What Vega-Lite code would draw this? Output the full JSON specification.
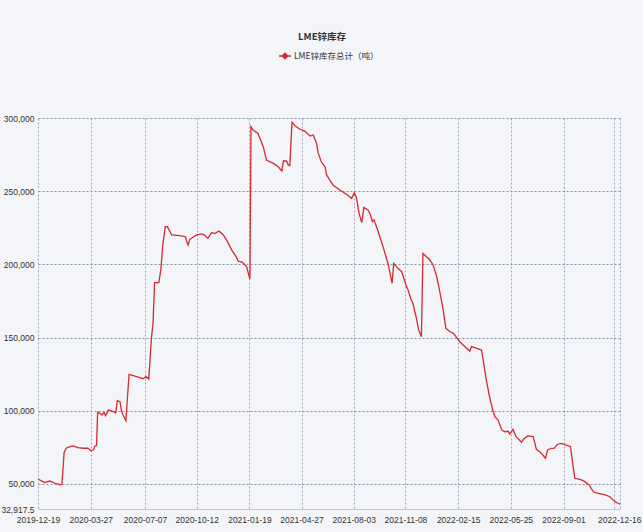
{
  "$schema": "https://vega.github.io/schema/vega-lite/v6.json",
  "width": 582,
  "height": 391,
  "autosize": {"type": "none"},
  "padding": {"left": 38, "top": 118, "right": 23, "bottom": 23},
  "background": "#f4f5f8",
  "title": {
    "text": "LME锌库存",
    "anchor": "middle",
    "frame": "group",
    "dx": -7,
    "offset": 8,
    "fontSize": 9.5,
    "fontWeight": "bold",
    "color": "#333333",
    "font": "Noto Sans CJK SC"
  },
  "config": {
    "font": "Liberation Sans, Noto Sans CJK SC, sans-serif",
    "view": {"stroke": null}
  },
  "data": {
    "values": [
      {"date": "2019-12-19", "v": 53400},
      {"date": "2019-12-26", "v": 52000},
      {"date": "2020-01-01", "v": 51000},
      {"date": "2020-01-10", "v": 52000},
      {"date": "2020-01-20", "v": 50500},
      {"date": "2020-01-29", "v": 49500},
      {"date": "2020-02-02", "v": 49800},
      {"date": "2020-02-06", "v": 71400},
      {"date": "2020-02-10", "v": 74400},
      {"date": "2020-02-17", "v": 75500},
      {"date": "2020-02-23", "v": 76000},
      {"date": "2020-03-03", "v": 74800},
      {"date": "2020-03-13", "v": 74400},
      {"date": "2020-03-22", "v": 74500},
      {"date": "2020-03-27", "v": 72800},
      {"date": "2020-04-01", "v": 73200},
      {"date": "2020-04-04", "v": 76000},
      {"date": "2020-04-07", "v": 76300},
      {"date": "2020-04-09", "v": 99000},
      {"date": "2020-04-13", "v": 98500},
      {"date": "2020-04-17", "v": 97100},
      {"date": "2020-04-21", "v": 99000},
      {"date": "2020-04-24", "v": 96700},
      {"date": "2020-04-29", "v": 100500},
      {"date": "2020-05-05", "v": 100000},
      {"date": "2020-05-13", "v": 98700},
      {"date": "2020-05-16", "v": 106900},
      {"date": "2020-05-21", "v": 106200},
      {"date": "2020-05-24", "v": 99400},
      {"date": "2020-06-01", "v": 93200},
      {"date": "2020-06-07", "v": 124900},
      {"date": "2020-06-15", "v": 124000},
      {"date": "2020-06-27", "v": 122600},
      {"date": "2020-07-03", "v": 121900},
      {"date": "2020-07-09", "v": 123300},
      {"date": "2020-07-14", "v": 121700},
      {"date": "2020-07-19", "v": 149500},
      {"date": "2020-07-22", "v": 159700},
      {"date": "2020-07-25", "v": 187500},
      {"date": "2020-08-02", "v": 187500},
      {"date": "2020-08-06", "v": 197300},
      {"date": "2020-08-09", "v": 212100},
      {"date": "2020-08-14", "v": 225800},
      {"date": "2020-08-18", "v": 225800},
      {"date": "2020-08-26", "v": 220100},
      {"date": "2020-09-10", "v": 219600},
      {"date": "2020-09-21", "v": 218900},
      {"date": "2020-09-23", "v": 216000},
      {"date": "2020-09-26", "v": 213200},
      {"date": "2020-09-29", "v": 217100},
      {"date": "2020-10-05", "v": 218500},
      {"date": "2020-10-12", "v": 220100},
      {"date": "2020-10-21", "v": 220800},
      {"date": "2020-10-27", "v": 220000},
      {"date": "2020-11-02", "v": 217800},
      {"date": "2020-11-09", "v": 221700},
      {"date": "2020-11-15", "v": 221000},
      {"date": "2020-11-23", "v": 222800},
      {"date": "2020-12-01", "v": 220100},
      {"date": "2020-12-07", "v": 216700},
      {"date": "2020-12-17", "v": 209800},
      {"date": "2020-12-25", "v": 205300},
      {"date": "2020-12-29", "v": 202300},
      {"date": "2021-01-06", "v": 201400},
      {"date": "2021-01-14", "v": 198400},
      {"date": "2021-01-17", "v": 193900},
      {"date": "2021-01-20", "v": 190000},
      {"date": "2021-01-22", "v": 294100},
      {"date": "2021-01-26", "v": 291800},
      {"date": "2021-02-04", "v": 289500},
      {"date": "2021-02-09", "v": 285000},
      {"date": "2021-02-14", "v": 280400},
      {"date": "2021-02-20", "v": 271300},
      {"date": "2021-03-05", "v": 269000},
      {"date": "2021-03-14", "v": 266700},
      {"date": "2021-03-21", "v": 263800},
      {"date": "2021-03-24", "v": 270800},
      {"date": "2021-03-30", "v": 270500},
      {"date": "2021-04-02", "v": 267900},
      {"date": "2021-04-05", "v": 267500},
      {"date": "2021-04-09", "v": 297100},
      {"date": "2021-04-15", "v": 294500},
      {"date": "2021-04-24", "v": 292300},
      {"date": "2021-05-03", "v": 291100},
      {"date": "2021-05-13", "v": 287700},
      {"date": "2021-05-19", "v": 288400},
      {"date": "2021-05-25", "v": 282700},
      {"date": "2021-05-28", "v": 276300},
      {"date": "2021-06-03", "v": 270100},
      {"date": "2021-06-10", "v": 266700},
      {"date": "2021-06-13", "v": 261100},
      {"date": "2021-06-25", "v": 254200},
      {"date": "2021-07-08", "v": 250800},
      {"date": "2021-07-20", "v": 247900},
      {"date": "2021-07-30", "v": 245100},
      {"date": "2021-08-04", "v": 249000},
      {"date": "2021-08-08", "v": 245500},
      {"date": "2021-08-13", "v": 234900},
      {"date": "2021-08-18", "v": 228500},
      {"date": "2021-08-22", "v": 239000},
      {"date": "2021-08-30", "v": 237100},
      {"date": "2021-09-03", "v": 234200},
      {"date": "2021-09-07", "v": 229200},
      {"date": "2021-09-10", "v": 230500},
      {"date": "2021-09-18", "v": 222300},
      {"date": "2021-09-27", "v": 212100},
      {"date": "2021-10-07", "v": 199600},
      {"date": "2021-10-14", "v": 187100},
      {"date": "2021-10-17", "v": 200700},
      {"date": "2021-10-25", "v": 197300},
      {"date": "2021-11-01", "v": 195000},
      {"date": "2021-11-09", "v": 185900},
      {"date": "2021-11-13", "v": 182500},
      {"date": "2021-11-19", "v": 175700},
      {"date": "2021-11-22", "v": 173400},
      {"date": "2021-11-28", "v": 164300},
      {"date": "2021-12-03", "v": 155200},
      {"date": "2021-12-08", "v": 150600},
      {"date": "2021-12-11", "v": 207500},
      {"date": "2021-12-16", "v": 205700},
      {"date": "2021-12-23", "v": 203500},
      {"date": "2021-12-30", "v": 199600},
      {"date": "2022-01-05", "v": 192800},
      {"date": "2022-01-11", "v": 182500},
      {"date": "2022-01-18", "v": 168800},
      {"date": "2022-01-23", "v": 156300},
      {"date": "2022-01-31", "v": 154000},
      {"date": "2022-02-06", "v": 152900},
      {"date": "2022-02-12", "v": 150100},
      {"date": "2022-02-18", "v": 147200},
      {"date": "2022-02-28", "v": 143800},
      {"date": "2022-03-09", "v": 140800},
      {"date": "2022-03-12", "v": 143800},
      {"date": "2022-03-22", "v": 142700},
      {"date": "2022-03-31", "v": 141500},
      {"date": "2022-04-03", "v": 134700},
      {"date": "2022-04-09", "v": 121000},
      {"date": "2022-04-15", "v": 109600},
      {"date": "2022-04-21", "v": 100500},
      {"date": "2022-04-25", "v": 96000},
      {"date": "2022-05-01", "v": 93700},
      {"date": "2022-05-08", "v": 86900},
      {"date": "2022-05-14", "v": 85700},
      {"date": "2022-05-20", "v": 86000},
      {"date": "2022-05-23", "v": 84100},
      {"date": "2022-05-29", "v": 87300},
      {"date": "2022-06-04", "v": 82300},
      {"date": "2022-06-14", "v": 78500},
      {"date": "2022-06-18", "v": 80700},
      {"date": "2022-06-26", "v": 82800},
      {"date": "2022-07-06", "v": 82300},
      {"date": "2022-07-12", "v": 73700},
      {"date": "2022-07-18", "v": 72100},
      {"date": "2022-07-24", "v": 69800},
      {"date": "2022-07-29", "v": 67500},
      {"date": "2022-08-02", "v": 73200},
      {"date": "2022-08-09", "v": 74400},
      {"date": "2022-08-15", "v": 74500},
      {"date": "2022-08-20", "v": 77000},
      {"date": "2022-08-28", "v": 77700},
      {"date": "2022-09-06", "v": 76600},
      {"date": "2022-09-14", "v": 75500},
      {"date": "2022-09-22", "v": 53900},
      {"date": "2022-10-02", "v": 53200},
      {"date": "2022-10-11", "v": 51600},
      {"date": "2022-10-19", "v": 49300},
      {"date": "2022-10-27", "v": 44700},
      {"date": "2022-11-05", "v": 43600},
      {"date": "2022-11-18", "v": 42500},
      {"date": "2022-11-27", "v": 41300},
      {"date": "2022-12-03", "v": 39000},
      {"date": "2022-12-10", "v": 37200},
      {"date": "2022-12-16", "v": 36300}
    ]
  },
  "mark": {"type": "line", "strokeWidth": 1.3, "interpolate": "linear"},
  "encoding": {
    "x": {
      "field": "date",
      "type": "temporal",
      "scale": {"type": "utc", "domain": ["2019-12-19", "2022-12-16"]},
      "axis": {
        "title": null,
        "values": ["2019-12-19", "2020-03-27", "2020-07-07", "2020-10-12", "2021-01-19", "2021-04-27", "2021-08-03", "2021-11-08", "2022-02-15", "2022-05-25", "2022-09-01", "2022-12-04", "2022-12-16"],
        "labelExpr": "utcFormat(datum.value, '%Y-%m-%d') == '2022-12-04' ? '' : utcFormat(datum.value, '%Y-%m-%d')",
        "labelFontSize": 8.5,
        "labelColor": "#333333",
        "labelPadding": 6,
        "labelOverlap": false,
        "labelFlush": false,
        "labelAlign": {"condition": {"test": "utcFormat(datum.value, '%Y-%m-%d') == '2022-12-16'", "value": "right"}, "value": "center"},
        "labelOffset": {"condition": {"test": "utcFormat(datum.value, '%Y-%m-%d') == '2022-12-16'", "value": 21}, "value": 0},
        "ticks": false,
        "domainColor": "#c3c7d9",
        "domainWidth": 1,
        "grid": true,
        "gridColor": "#9ea3bb",
        "gridDash": [2, 2],
        "gridWidth": 1
      }
    },
    "y": {
      "field": "v",
      "type": "quantitative",
      "scale": {"domain": [32917.5, 300000], "nice": false, "zero": false},
      "axis": {
        "title": null,
        "values": [32917.5, 50000, 100000, 150000, 200000, 250000, 300000],
        "format": ",.1~f",
        "labelFontSize": 8.5,
        "labelColor": "#333333",
        "labelPadding": 4,
        "labelOverlap": false,
        "labelFlush": false,
        "ticks": false,
        "domain": false,
        "grid": true,
        "gridColor": "#8a8fab",
        "gridDash": [2, 2],
        "gridWidth": 1
      }
    },
    "color": {
      "datum": "LME锌库存总计（吨）",
      "type": "nominal",
      "scale": {"range": ["#d42a33"]},
      "legend": {
        "title": null,
        "orient": "none",
        "legendX": 240,
        "legendY": -69,
        "padding": 0,
        "symbolType": "M-1,0H1M-0.45,0L0,-0.45L0.45,0L0,0.45Z",
        "symbolSize": 144,
        "symbolFillColor": "#d42a33",
        "symbolStrokeColor": "#d42a33",
        "symbolStrokeWidth": 1.5,
        "labelFontSize": 8.5,
        "labelColor": "#333333",
        "labelFont": "Noto Sans CJK SC",
        "labelOffset": 2
      }
    }
  }
}
